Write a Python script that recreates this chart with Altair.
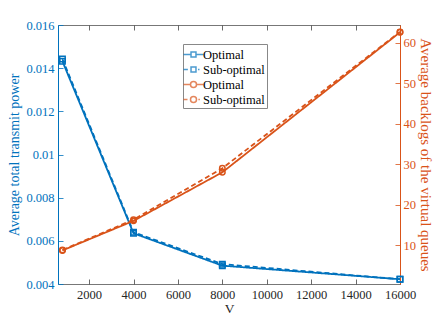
import altair as alt
import pandas as pd

# ---- data ----
V = [800, 4000, 8000, 16000]
power_opt = [0.01432, 0.00635, 0.00485, 0.00422]
power_sub = [0.01442, 0.00640, 0.00492, 0.00422]
backlog_opt = [8.7, 16.0, 28.0, 62.6]
backlog_sub = [8.8, 16.3, 29.0, 62.7]

series_names = ["Optimal (P)", "Sub-optimal (P)", "Optimal (Q)", "Sub-optimal (Q)"]
x_ticks = [2000, 4000, 6000, 8000, 10000, 12000, 14000, 16000]
left_ticks = [0.004, 0.006, 0.008, 0.010, 0.012, 0.014, 0.016]
right_ticks = [10, 20, 30, 40, 50, 60]

BLUE = "#0072BD"
ORANGE = "#D95319"
GRAY = "#262626"
FONT = "Liberation Serif"
W, H = 342, 259

def long(vals_a, vals_b):
    rows = []
    for v, a, b in zip(V, vals_a, vals_b):
        rows.append({"V": v, "value": a, "kind": "Optimal"})
        rows.append({"V": v, "value": b, "kind": "Sub-optimal"})
    return pd.DataFrame(rows)

power_df = long(power_opt, power_sub)
backlog_df = long(backlog_opt, backlog_sub)
legend_df = pd.DataFrame({"series": series_names})

color_scale = alt.Scale(domain=series_names, range=[BLUE, BLUE, ORANGE, ORANGE])
dash_scale = alt.Scale(domain=["Optimal", "Sub-optimal"], range=[[1, 0], [5, 3]])

# legend symbols: line + marker drawn as custom paths (unit = 7.5 px)
sq = "M-0.33,-0.33H0.33V0.33H-0.33Z"
ci = "M-0.4,0A0.4,0.4,0,1,0,0.4,0A0.4,0.4,0,1,0,-0.4,0Z"
shape_range = [
    "M-1.33,0H-0.33M0.33,0H1.33" + sq,
    "M-1.33,0H-0.75M0.6,0H0.8" + sq,
    "M-1.33,0H-0.4M0.4,0H1.33" + ci,
    "M-1.33,0H-0.8M0.65,0H0.85" + ci,
]

x_enc = alt.X(
    "V:Q",
    scale=alt.Scale(domain=[600, 16000], nice=False),
    axis=alt.Axis(
        values=x_ticks, format="d", title="V", orient="bottom",
        labelFont=FONT, titleFont=FONT,
        labelColor=GRAY, titleColor=GRAY, labelFontSize=12.5, titleFontSize=13.5,
        titleFontWeight="normal", labelPadding=4,
        titleY=28, titleBaseline="alphabetic",
        labelOverlap=False, labelFlush=False, ticks=False, domain=False,
        grid=True, gridColor="#444444", gridWidth=0.8, gridDash=[5, H - 10, 5, 2000],
    ),
)

y_left = alt.Y(
    "value:Q",
    scale=alt.Scale(domain=[0.004, 0.016], nice=False),
    axis=alt.Axis(
        values=left_ticks, format=".6~g", title="Average total transmit power",
        orient="left", labelColor=BLUE, titleColor=BLUE, domainColor=BLUE,
        labelFont=FONT, titleFont=FONT, labelOverlap=False, labelFlush=False,
        labelFontSize=12.5, titleFontSize=14, titleFontWeight="normal",
        labelPadding=4, titlePadding=4, ticks=False,
        grid=True, gridColor=BLUE, gridWidth=0.8, gridDash=[5, 2000],
    ),
)

y_right = alt.Y(
    "value:Q",
    scale=alt.Scale(domain=[0.4, 64.4], nice=False),
    axis=alt.Axis(
        values=right_ticks, title="Average backlogs of the virtual queues",
        orient="right", labelColor=ORANGE, titleColor=ORANGE, domainColor=ORANGE,
        labelFont=FONT, titleFont=FONT, labelOverlap=False, labelFlush=False,
        labelFontSize=12.5, titleFontSize=15, titleFontWeight="normal",
        labelPadding=3, titlePadding=2, ticks=False,
        grid=True, gridColor=ORANGE, gridWidth=0.8, gridDash=[5, 2000],
    ),
)

def panel(df, y_enc, shape, color):
    base = alt.Chart(df)
    line = base.mark_line(strokeWidth=1.8, color=color).encode(
        x=x_enc, y=y_enc,
        strokeDash=alt.StrokeDash("kind:N", scale=dash_scale, legend=None),
    )
    pts = base.mark_point(shape=shape, filled=False, size=30, strokeWidth=1.5,
                          opacity=1, color=color).encode(x=x_enc, y=y_enc)
    return alt.layer(line, pts)

left = panel(power_df, y_left, "square", BLUE)
right = panel(backlog_df, y_right, "circle", ORANGE)

ghost = alt.Chart(legend_df).mark_point(filled=False, clip=True, strokeWidth=1.5).encode(
    x=alt.value(-200), y=alt.value(-200),
    color=alt.Color("series:N", scale=color_scale, legend=alt.Legend(
        title=None, orient="none", legendX=125, legendY=19,
        labelExpr="split(datum.label, ' (')[0]",
        labelFont=FONT, labelFontSize=12.5, labelColor="#000000",
        symbolSize=225, symbolStrokeWidth=1.5, symbolFillColor="transparent",
        strokeColor="#888888", fillColor="#ffffff", padding=2, rowPadding=0,
        labelOffset=1,
    )),
    shape=alt.Shape("series:N", scale=alt.Scale(domain=series_names, range=shape_range)),
)

chart = alt.layer(left, right, ghost).resolve_scale(y="independent").properties(
    width=W, height=H,
    autosize=alt.AutoSizeParams(type="none"),
    padding={"left": 50, "top": 17, "right": 34, "bottom": 30},
).configure(font=FONT).configure_view(stroke="#777777", strokeWidth=1).configure_axis(
    labelFont=FONT, titleFont=FONT,
).configure_legend(labelFont=FONT)

chart.save("out.html", embed_options={"renderer": "svg", "actions": False})
